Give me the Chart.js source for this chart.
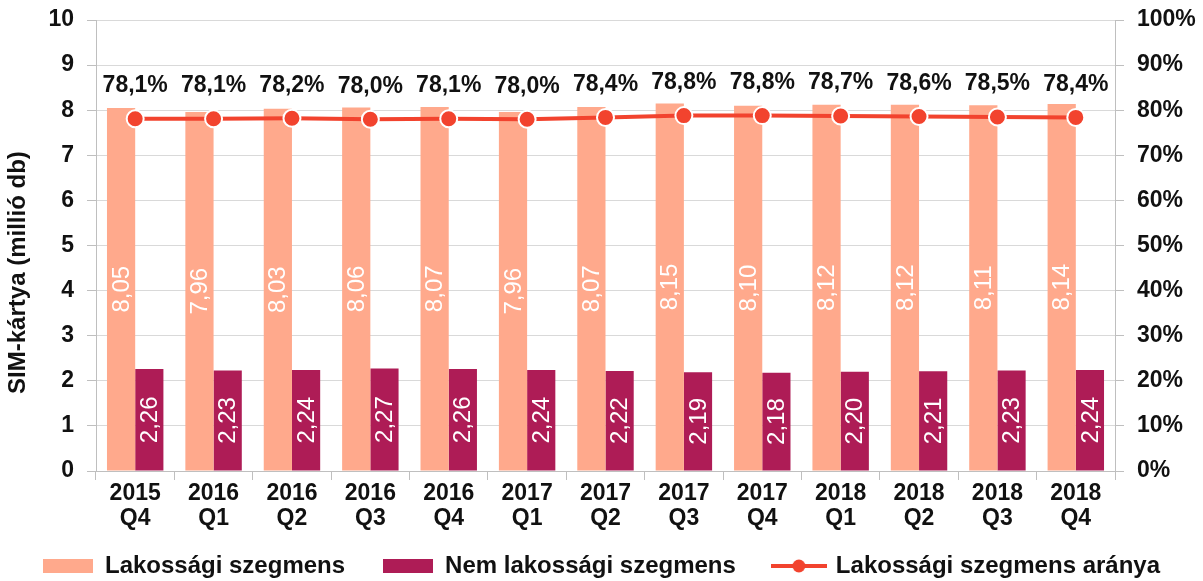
<!DOCTYPE html>
<html>
<head>
<meta charset="utf-8">
<script src="https://cdn.jsdelivr.net/npm/chart.js@4/dist/chart.umd.min.js"></script>
<style>
  html, body { margin: 0; padding: 0; background: #fff; }
  #wrap { width: 1203px; height: 581px; position: relative; }
</style>
</head>
<body>
<div id="wrap"><canvas id="c" width="1203" height="581"></canvas></div>
<script>
const years = ['2015','2016','2016','2016','2016','2017','2017','2017','2017','2018','2018','2018','2018'];
const quarters = ['Q4','Q1','Q2','Q3','Q4','Q1','Q2','Q3','Q4','Q1','Q2','Q3','Q4'];
const residential = [8.05,7.96,8.03,8.06,8.07,7.96,8.07,8.15,8.10,8.12,8.12,8.11,8.14];
const nonResidential = [2.26,2.23,2.24,2.27,2.26,2.24,2.22,2.19,2.18,2.20,2.21,2.23,2.24];
const residentialShare = [78.1,78.1,78.2,78.0,78.1,78.0,78.4,78.8,78.8,78.7,78.6,78.5,78.4];
const leftTicks = [0,1,2,3,4,5,6,7,8,9,10];
const rightTicks = [0,10,20,30,40,50,60,70,80,90,100];
const seriesNames = ['Lakossági szegmens','Nem lakossági szegmens','Lakossági szegmens aránya'];
const axisTitle = 'SIM-kártya (millió db)';

const PINK = '#FFA98C';
const MAROON = '#AE1C56';
const RED = '#F2432E';
const FONT = '"Liberation Sans", Arial, sans-serif';

const labels = years.map((y, i) => [y, quarters[i]]);
const fmt = (v, d) => v.toFixed(d).replace('.', ',');

function swatch(w, h, draw) {
  const c = document.createElement('canvas');
  c.width = w; c.height = h;
  draw(c.getContext('2d'), w, h);
  return c;
}
const swatches = [
  swatch(50, 14, (g, w, h) => { g.fillStyle = PINK; g.fillRect(0, 0, w, h); }),
  swatch(50, 14, (g, w, h) => { g.fillStyle = MAROON; g.fillRect(0, 0, w, h); }),
  swatch(56, 16, (g, w, h) => {
    g.strokeStyle = RED; g.lineWidth = 4;
    g.beginPath(); g.moveTo(0, h / 2); g.lineTo(w, h / 2); g.stroke();
    g.fillStyle = RED; g.beginPath(); g.arc(w / 2, h / 2, 6.5, 0, Math.PI * 2); g.fill();
  })
];

const layoutPlugin = {
  id: 'legendFit',
  afterInit(chart) {
    const lg = chart.legend;
    if (!lg) return;
    const f = lg.fit;
    lg.fit = function () { this.maxWidth = 5000; f.call(this); this.height = 46; };
  },
  afterLayout(chart) {
    const lg = chart.legend;
    if (!lg) return;
    lg.top = 516;
    lg.bottom = 581;
  }
};

const zeroPad = scale => { scale.paddingTop = 0; scale.paddingBottom = 0; scale.paddingLeft = 0; scale.paddingRight = 0; };

const labelPlugin = {
  id: 'valueLabels',
  afterDatasetsDraw(chart) {
    const ctx = chart.ctx;
    ctx.save();
    [0, 1].forEach(di => {
      const meta = chart.getDatasetMeta(di);
      const data = chart.data.datasets[di].data;
      meta.data.forEach((bar, i) => {
        const midY = (bar.y + bar.base) / 2;
        ctx.save();
        ctx.translate(bar.x, midY);
        ctx.rotate(-Math.PI / 2);
        ctx.fillStyle = '#ffffff';
        ctx.font = '24px ' + FONT;
        ctx.textAlign = 'center';
        ctx.textBaseline = 'middle';
        ctx.fillText(fmt(data[i], 2), 0, 1);
        ctx.restore();
      });
    });
    const lmeta = chart.getDatasetMeta(2);
    const ldata = chart.data.datasets[2].data;
    ctx.fillStyle = '#111';
    ctx.font = 'bold 23px ' + FONT;
    ctx.textAlign = 'center';
    ctx.textBaseline = 'middle';
    lmeta.data.forEach((pt, i) => {
      ctx.fillText(fmt(ldata[i], 1) + '%', pt.x, pt.y - 33);
    });
    const ys = chart.scales.y;
    ctx.save();
    ctx.translate(18, ys.top + (ys.bottom - ys.top) * 0.56);
    ctx.rotate(-Math.PI / 2);
    ctx.font = 'bold 24px ' + FONT;
    ctx.fillStyle = '#111';
    ctx.textAlign = 'center';
    ctx.textBaseline = 'middle';
    ctx.fillText(axisTitle, 0, 0);
    ctx.restore();
    ctx.restore();
  }
};

new Chart(document.getElementById('c'), {
  type: 'bar',
  data: {
    labels: labels,
    datasets: [
      { label: seriesNames[0], data: residential, backgroundColor: PINK, yAxisID: 'y',
        categoryPercentage: 0.72, barPercentage: 1.0, order: 2 },
      { label: seriesNames[1], data: nonResidential, backgroundColor: MAROON, yAxisID: 'y',
        categoryPercentage: 0.72, barPercentage: 1.0, order: 2 },
      { type: 'line', label: seriesNames[2], data: residentialShare, yAxisID: 'y1',
        borderColor: RED, backgroundColor: RED, borderWidth: 4,
        pointRadius: 8.5, pointBackgroundColor: RED, pointBorderColor: '#ffffff',
        pointBorderWidth: 2, fill: false, tension: 0, order: 0 }
    ]
  },
  options: {
    responsive: false,
    animation: false,
    devicePixelRatio: 1,
    layout: { padding: { top: 20, left: 0, right: 0, bottom: 0 } },
    plugins: {
      tooltip: { enabled: false },
      legend: {
        position: 'bottom',
        labels: {
          usePointStyle: true,
          pointStyleWidth: 50,
          boxHeight: 16,
          padding: 38,
          color: '#111',
          font: { family: FONT, size: 24, weight: 'bold' },
          sort: (a, b) => a.datasetIndex - b.datasetIndex,
          generateLabels(chart) {
            const items = Chart.defaults.plugins.legend.labels.generateLabels(chart);
            items.forEach(it => { it.pointStyle = swatches[it.datasetIndex]; it.rotation = 0; it.lineWidth = 0; });
            return items;
          }
        }
      }
    },
    scales: {
      x: {
        afterFit(scale) { scale.height = 64; zeroPad(scale); },
        grid: { display: true, drawOnChartArea: false, drawTicks: true, tickLength: 9, color: '#BFBFBF', offset: true },
        border: { color: '#BFBFBF' },
        ticks: { color: '#111', font: { family: FONT, size: 23, weight: 'bold', lineHeight: 1.1 }, padding: 1, maxRotation: 0, autoSkip: false }
      },
      y: {
        position: 'left',
        min: 0, max: 10,
        afterBuildTicks(scale) { scale.ticks = leftTicks.map(v => ({ value: v })); },
        afterFit(scale) { scale.width = 96; zeroPad(scale); },
        grid: { color: '#D9D9D9', tickLength: 9, tickColor: '#BFBFBF' },
        border: { color: '#BFBFBF' },
        ticks: { color: '#111', font: { family: FONT, size: 23, weight: 'bold' }, padding: 13 },
        title: { display: false }
      },
      y1: {
        position: 'right',
        min: 0, max: 100,
        afterBuildTicks(scale) { scale.ticks = rightTicks.map(v => ({ value: v })); },
        afterFit(scale) { scale.width = 88; zeroPad(scale); },
        grid: { drawOnChartArea: false, tickLength: 9, color: '#BFBFBF' },
        border: { color: '#BFBFBF' },
        ticks: { color: '#111', font: { family: FONT, size: 23, weight: 'bold' }, padding: 13, callback: v => v + '%' }
      }
    }
  },
  plugins: [layoutPlugin, labelPlugin]
});
</script>
</body>
</html>
